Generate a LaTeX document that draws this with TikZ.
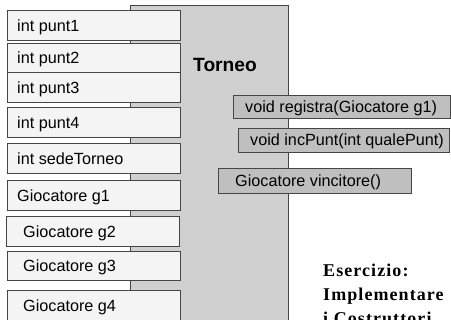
\documentclass[tikz,border=0pt]{standalone}
\usepackage{fontspec}
\setmainfont{Liberation Sans}
\newfontfamily\serifbold[LetterSpace=6]{Liberation Serif}
\definecolor{bgpanel}{HTML}{D0D0D0}
\definecolor{boxfill}{HTML}{F4F4F4}
\definecolor{methfill}{HTML}{BFBFBF}
\definecolor{edge}{HTML}{454545}
\tikzset{
  lbox/.style={draw=edge, line width=1pt, fill=boxfill, minimum width=173pt, minimum height=#1, anchor=north west, inner sep=0pt},
  ltext/.style={font=\fontsize{16.2}{19}\selectfont, anchor=base west, inner sep=0pt, text=black},
  mbox/.style={draw=edge, line width=1pt, fill=methfill, anchor=north west, inner sep=0pt, minimum height=#1},
  extext/.style={font=\serifbold\bfseries\fontsize{18}{21}\selectfont, anchor=base west, inner sep=0pt}
}
\begin{document}
\begin{tikzpicture}[x=1pt,y=-1pt]
\useasboundingbox (0,0) rectangle (451,320);
\clip (0,0) rectangle (451,320);
% class panel
\node[draw=edge, line width=1.2pt, fill=bgpanel, anchor=north west, minimum width=158pt, minimum height=330pt, inner sep=0pt] (panel) at (130,5) {};
\node[font=\bfseries\fontsize{19.2}{23}\selectfont, anchor=base west, inner sep=0pt] (title) at (193,72) {Torneo};
% attribute boxes
\node[lbox=30pt] (b1) at (7,10) {};
\node[lbox=29pt] (b2) at (7,43) {};
\node[lbox=30pt] (b3) at (7,72) {};
\node[lbox=30pt] (b4) at (7,107) {};
\node[lbox=30pt] (b5) at (7,143) {};
\node[lbox=30pt] (b6) at (7,180) {};
\node[lbox=30pt] (b7) at (6,216) {};
\node[lbox=29pt] (b8) at (7,251) {};
\node[lbox=36pt] (b9) at (7,290) {};
\node[ltext] (t1) at ([xshift=10pt,yshift=-6pt]b1.west) {int punt1};
\node[ltext] (t2) at ([xshift=10pt,yshift=-6pt]b2.west) {int punt2};
\node[ltext] (t3) at ([xshift=10pt,yshift=-6pt]b3.west) {int punt3};
\node[ltext] (t4) at ([xshift=10pt,yshift=-6pt]b4.west) {int punt4};
\node[ltext] (t5) at ([xshift=10pt,yshift=-6pt]b5.west) {int sedeTorneo};
\node[ltext] (t6) at ([xshift=10pt,yshift=-6pt]b6.west) {Giocatore g1};
\node[ltext] (t7) at ([xshift=17pt,yshift=-6pt]b7.west) {Giocatore g2};
\node[ltext] (t8) at ([xshift=16pt,yshift=-6pt]b8.west) {Giocatore g3};
\node[ltext] (t9) at (23,312) {Giocatore g4};
% method boxes
\node[mbox=23pt, minimum width=217pt] (m1) at (233,95) {};
\node[mbox=24pt, minimum width=211pt] (m2) at (238,128) {};
\node[mbox=25pt, minimum width=193pt] (m3) at (218,168) {};
\node[ltext] (mt1) at ([xshift=12pt,yshift=-5.5pt]m1.west) {void registra(Giocatore g1)};
\node[ltext] (mt2) at ([xshift=12pt,yshift=-5.5pt]m2.west) {void incPunt(int qualePunt)};
\node[ltext] (mt3) at ([xshift=17pt,yshift=-5.5pt]m3.west) {Giocatore vincitore()};
% exercise text
\node[extext] (e1) at (323,277) {Esercizio:};
\node[extext] (e2) at (323,301) {Implementare};
\node[extext] (e3) at (323,325) {i Costruttori};
\end{tikzpicture}
\end{document}
